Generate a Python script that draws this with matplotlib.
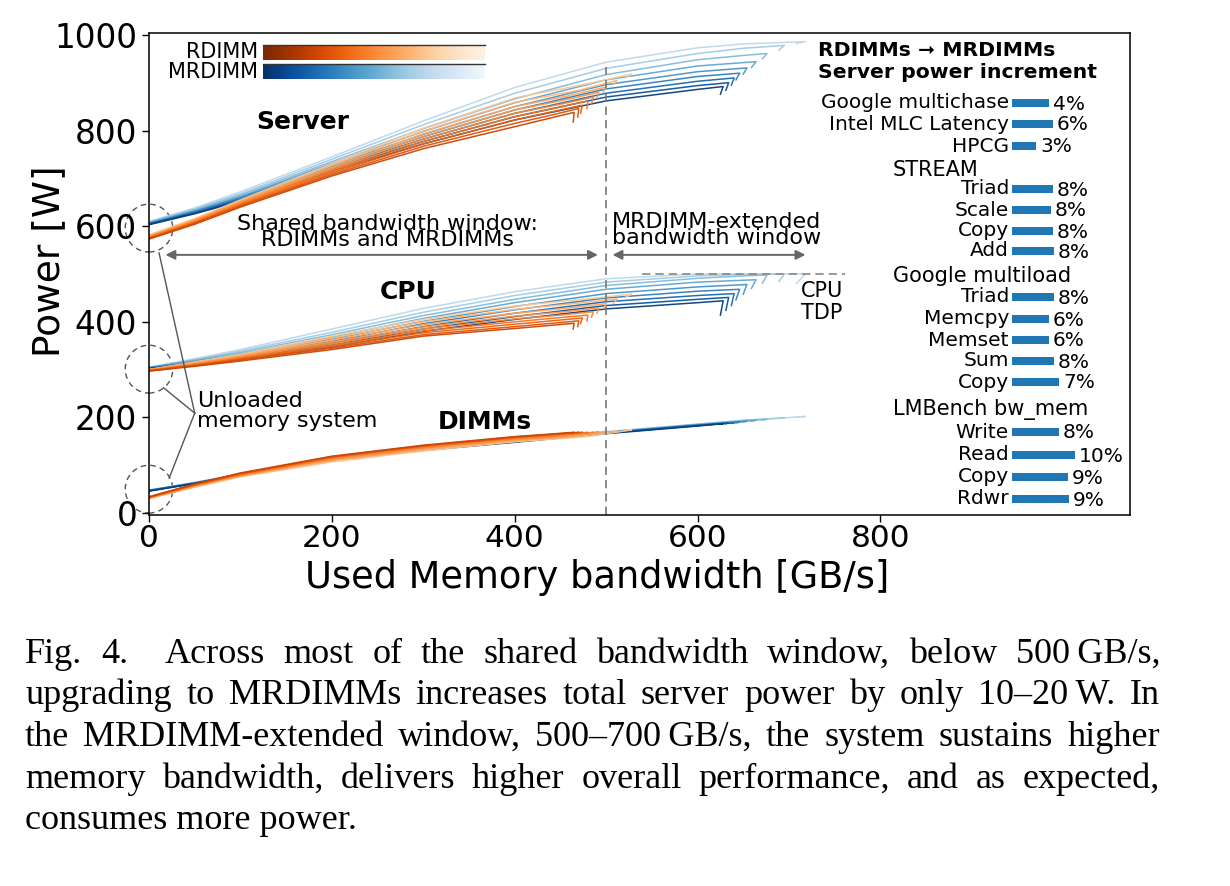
import numpy as np
import matplotlib
matplotlib.use("Agg")
import matplotlib.pyplot as plt
from matplotlib.patches import Ellipse

# ---------------- data ----------------
# RDIMM runs: bandwidth [GB/s] and power [W] for server / CPU / DIMMs (dark -> light)
rdimm_bw = [
    [0, 50, 100, 200, 300, 400, 430, 465, 464],
    [0, 50, 100, 200, 300, 400, 435, 470, 469],
    [0, 50, 100, 200, 300, 400, 440, 474, 472],
    [0, 50, 100, 200, 300, 400, 445, 480, 479],
    [0, 50, 100, 200, 300, 400, 450, 486, 484],
    [0, 50, 100, 200, 300, 400, 455, 492, 490],
    [0, 50, 100, 200, 300, 400, 460, 500, 497],
    [0, 50, 100, 200, 300, 400, 470, 512, 508],
    [0, 50, 100, 200, 300, 400, 480, 528, 521],
]
rdimm_server = [
    [573, 604, 640, 705, 762, 808, 822, 838, 818],
    [574, 606, 642, 708, 767, 815, 830, 846, 828],
    [575, 607, 644, 711, 772, 822, 839, 853, 836],
    [576, 609, 646, 714, 777, 829, 847, 862, 846],
    [577, 610, 648, 717, 782, 836, 855, 870, 856],
    [578, 612, 650, 720, 788, 843, 864, 880, 868],
    [579, 613, 651, 723, 793, 850, 873, 891, 881],
    [580, 614, 653, 727, 799, 859, 884, 905, 897],
    [582, 616, 655, 730, 805, 868, 898, 918, 910],
]
rdimm_cpu = [
    [297, 307, 318, 342, 370, 386, 391, 397, 385],
    [297, 308, 320, 345, 373, 390, 396, 402, 390],
    [298, 309, 322, 348, 377, 395, 402, 408, 396],
    [298, 310, 323, 351, 381, 400, 408, 414, 402],
    [299, 311, 325, 355, 385, 406, 414, 421, 410],
    [299, 312, 327, 358, 389, 412, 421, 429, 418],
    [300, 314, 328, 362, 394, 418, 429, 438, 428],
    [300, 315, 330, 366, 400, 426, 439, 448, 439],
    [300, 316, 332, 370, 405, 433, 448, 458, 451],
]
rdimm_dimm = [
    [34, 61, 84, 119, 142, 160, 164, 169, 168],
    [34, 60, 83, 118, 141, 159, 164, 169, 168],
    [33, 59, 82, 117, 140, 158, 164, 169, 168],
    [33, 59, 81, 116, 139, 157, 163, 169, 168],
    [32, 58, 80, 114, 137, 155, 162, 169, 168],
    [32, 57, 79, 113, 136, 154, 161, 170, 169],
    [31, 56, 78, 111, 134, 152, 160, 171, 170],
    [31, 55, 77, 109, 132, 151, 160, 172, 171],
    [30, 54, 76, 107, 130, 149, 160, 174, 173],
]

# MRDIMM runs (dark -> light)
mrdimm_bw = [
    [0, 50, 100, 200, 300, 400, 500, 600, 628, 625],
    [0, 50, 100, 200, 300, 400, 500, 600, 634, 631],
    [0, 50, 100, 200, 300, 400, 500, 600, 640, 637],
    [0, 50, 100, 200, 300, 400, 500, 600, 646, 642],
    [0, 50, 100, 200, 300, 400, 500, 600, 654, 650],
    [0, 50, 100, 200, 300, 400, 500, 600, 664, 659],
    [0, 50, 100, 200, 300, 400, 500, 600, 650, 676, 671],
    [0, 50, 100, 200, 300, 400, 500, 600, 650, 695, 689],
    [0, 50, 100, 200, 300, 400, 500, 600, 650, 718, 708],
]
mrdimm_server = [
    [603, 626, 652, 715, 772, 822, 862, 886, 892, 876],
    [604, 627, 654, 718, 777, 829, 870, 894, 900, 884],
    [605, 628, 656, 721, 782, 836, 878, 903, 910, 895],
    [605, 630, 658, 724, 787, 843, 887, 913, 920, 906],
    [606, 631, 660, 727, 792, 850, 896, 923, 931, 918],
    [607, 632, 662, 731, 798, 858, 906, 935, 944, 932],
    [608, 634, 665, 735, 804, 866, 917, 948, 957, 961, 950],
    [609, 636, 668, 740, 812, 878, 930, 961, 972, 978, 968],
    [610, 638, 672, 745, 820, 890, 943, 973, 981, 986, 982],
]
mrdimm_cpu = [
    [302, 311, 322, 347, 380, 405, 427, 440, 444, 414],
    [302, 312, 324, 351, 385, 411, 434, 447, 451, 424],
    [303, 314, 326, 355, 390, 418, 442, 455, 459, 434],
    [303, 315, 328, 359, 396, 425, 450, 464, 468, 446],
    [304, 317, 331, 364, 401, 432, 459, 473, 478, 458],
    [304, 318, 333, 368, 407, 440, 468, 483, 488, 470],
    [304, 320, 336, 373, 413, 447, 476, 491, 496, 498, 481],
    [305, 321, 339, 378, 420, 455, 483, 496, 499, 500, 484],
    [305, 323, 342, 385, 428, 463, 490, 500, 500, 500, 480],
]
mrdimm_dimm = [
    [46, 62, 79, 111, 131, 148, 166, 182, 187, 186],
    [46, 62, 80, 111, 132, 149, 167, 183, 188, 187],
    [47, 62, 80, 112, 132, 149, 167, 183, 189, 188],
    [47, 63, 80, 112, 133, 150, 168, 184, 190, 189],
    [47, 63, 81, 113, 133, 150, 168, 184, 192, 191],
    [47, 63, 81, 113, 134, 151, 169, 185, 194, 193],
    [48, 63, 81, 113, 134, 151, 169, 185, 193, 196, 195],
    [48, 64, 82, 114, 134, 152, 170, 186, 194, 199, 198],
    [48, 64, 82, 114, 135, 152, 170, 186, 194, 202, 201],
]

cpu_tdp = 500
window_split = 500
x_ticks = [0, 200, 400, 600, 800]
y_ticks = [0, 200, 400, 600, 800, 1000]

# right panel: server power increment RDIMMs -> MRDIMMs
bench_labels = ["Google multichase", "Intel MLC Latency", "HPCG",
                "Triad", "Scale", "Copy", "Add",
                "Triad", "Memcpy", "Memset", "Sum", "Copy",
                "Write", "Read", "Copy", "Rdwr"]
bench_pct = [4, 6, 3, 8, 8, 8, 8, 8, 6, 6, 8, 7, 8, 10, 9, 9]
bench_bar = [37, 41, 24, 41, 39, 41, 42, 42, 37, 37, 42, 47, 47, 63, 56, 57]
group_titles = ["STREAM", "Google multiload", "LMBench bw_mem"]

caption_lines = [
    "Fig. 4.  Across most of the shared bandwidth window, below 500\u2009GB/s,",
    "upgrading to MRDIMMs increases total server power by only 10\u201320\u2009W. In",
    "the MRDIMM-extended window, 500\u2013700\u2009GB/s, the system sustains higher",
    "memory bandwidth, delivers higher overall performance, and as expected,",
    "consumes more power.",
]

# ---------------- layout ----------------
W, H = 1230, 886
plt.rcParams['font.family'] = ['DejaVu Sans']
fig = plt.figure(figsize=(W / 100, H / 100), dpi=100)


def fr(x0, y0, x1, y1):
    return [x0 / W, 1 - y1 / H, (x1 - x0) / W, (y1 - y0) / H]


ax = fig.add_axes(fr(149, 32.5, 1130, 515))
ax.set_xlim(0, 1073)
ax.set_ylim(-4, 1005)

r_cols = plt.cm.Oranges(np.linspace(0.78, 0.28, len(rdimm_bw)))
m_cols = plt.cm.Blues(np.linspace(0.95, 0.28, len(mrdimm_bw)))

for comp_m, comp_r in [(mrdimm_server, rdimm_server), (mrdimm_cpu, rdimm_cpu),
                       (mrdimm_dimm, rdimm_dimm)]:
    for i in reversed(range(len(mrdimm_bw))):
        ax.plot(mrdimm_bw[i], comp_m[i], color=m_cols[i], lw=1.1, alpha=0.95,
                solid_joinstyle='round')
    for i in reversed(range(len(rdimm_bw))):
        ax.plot(rdimm_bw[i], comp_r[i], color=r_cols[i], lw=1.1, alpha=0.95,
                solid_joinstyle='round')

ax.set_xticks(x_ticks)
ax.set_yticks(y_ticks)
ax.tick_params(labelsize=23.5, width=1.0, length=5)
ax.tick_params(axis='x', labelsize=22.5, pad=1.5)
for s in ax.spines.values():
    s.set_linewidth(1.1)
ax.set_xlabel("Used Memory bandwidth [GB/s]", fontsize=26.5)
ax.xaxis.set_label_coords(0.457, -0.091)
ax.xaxis.label.set_va('top')
ax.set_ylabel("Power [W]", fontsize=27)
ax.yaxis.set_label_coords(-0.083, 0.527)

grey = '#666666'
# window split line and CPU TDP
ax.plot([window_split, window_split], [-4, 932], ls=(0, (5, 3)), color='#777777', lw=1.2)
ax.plot([539, 761], [cpu_tdp, cpu_tdp], ls=(0, (5, 3)), color='#888888', lw=1.2)

# arrows
ax.annotate('', xy=(491, 540), xytext=(18, 540),
            arrowprops=dict(arrowstyle='<|-|>', color=grey, lw=1.4,
                            mutation_scale=14, shrinkA=0, shrinkB=0))
ax.annotate('', xy=(718, 540), xytext=(507, 540),
            arrowprops=dict(arrowstyle='<|-|>', color=grey, lw=1.4,
                            mutation_scale=14, shrinkA=0, shrinkB=0))
ax.text(261, 588, "Shared bandwidth window:\nRDIMMs and MRDIMMs", ha='center',
        va='center', fontsize=16, linespacing=0.78)
ax.text(506, 592, "MRDIMM-extended\nbandwidth window", ha='left',
        va='center', fontsize=16, linespacing=0.78)
ax.text(713, 441, "CPU\nTDP", ha='left', va='center', fontsize=15, linespacing=1.1)

# group labels
ax.text(168, 818, "Server", ha='center', va='center', fontsize=18, fontweight='bold')
ax.text(284, 462, "CPU", ha='center', va='center', fontsize=18, fontweight='bold')
ax.text(367, 190, "DIMMs", ha='center', va='center', fontsize=18, fontweight='bold')

# unloaded memory system circles
for cy in (596, 301, 50):
    ax.add_patch(Ellipse((0, cy), width=52, height=100, fill=False,
                         ls=(0, (4, 3)), ec='#555555', lw=1.0, clip_on=False))
vertex = (50, 209)
for sx, sy in [(11, 544), (16, 262), (22, 73)]:
    ax.plot([sx, vertex[0]], [sy, vertex[1]], color='#555555', lw=1.0, clip_on=False)
ax.text(53, 213, "Unloaded\nmemory system", ha='left', va='center',
        fontsize=16, linespacing=1.02)

# colour legend bars
for label, cmap, y0 in [("RDIMM", 'Oranges', 45), ("MRDIMM", 'Blues', 64)]:
    bax = fig.add_axes(fr(263, y0, 485, y0 + 15))
    bax.imshow(np.linspace(1.0, 0.03, 256)[None, :], cmap=cmap, aspect='auto',
               vmin=0, vmax=1)
    bax.set_xticks([])
    bax.set_yticks([])
    for s in ('left', 'right', 'bottom'):
        bax.spines[s].set_visible(False)
    bax.spines['top'].set_color('#333333')
    bax.spines['top'].set_linewidth(1.0)
    fig.text(258 / W, 1 - (y0 + 7.5) / H, label, ha='right', va='center', fontsize=15)

# right panel bars
bx = fig.add_axes(fr(1012, 92, 1112, 512))
bx.set_xlim(0, 100)
bx.set_ylim(512, 92)
bx.axis('off')
row_y = [103, 124, 146, 189, 210, 231, 251, 297, 319, 340, 361, 382, 432, 455, 477, 499]
title_y = [170, 276, 410]
bx.barh(row_y, bench_bar, height=8, color='#1f77b4')
for y, lab, v, p in zip(row_y, bench_labels, bench_bar, bench_pct):
    bx.text(-3, y, lab, ha='right', va='center', fontsize=14.5)
    bx.text(v + 4, y + 1, f"{p}%", ha='left', va='center', fontsize=14.5)
for y, t in zip(title_y, group_titles):
    bx.text(-119, y, t, ha='left', va='center', fontsize=15)
bx.text(-194, 50, "RDIMMs \u279e MRDIMMs", ha='left', va='center', fontsize=14.7,
        fontweight='bold')
bx.text(-194, 73, "Server power increment", ha='left', va='center', fontsize=14.7,
        fontweight='bold')

# caption (justified)
renderer = fig.canvas.get_renderer()
cap_kw = dict(fontsize=26, family='Liberation Serif', va='baseline', ha='left')
x_left, x_right = 25, 1160
for k, line in enumerate(caption_lines):
    yb = 1 - (663 + 41.5 * k) / H
    if k == len(caption_lines) - 1:
        fig.text(x_left / W, yb, line, **cap_kw)
        continue
    words = line.split(' ')
    ts = [fig.text(0, yb, w, **cap_kw) for w in words]
    widths = [t.get_window_extent(renderer).width if w else 0 for t, w in zip(ts, words)]
    gap = (x_right - x_left - sum(widths)) / (len(words) - 1)
    x = x_left
    for t, wd in zip(ts, widths):
        t.set_x(x / W)
        x += wd + gap

fig.savefig("out.png", dpi=100)
